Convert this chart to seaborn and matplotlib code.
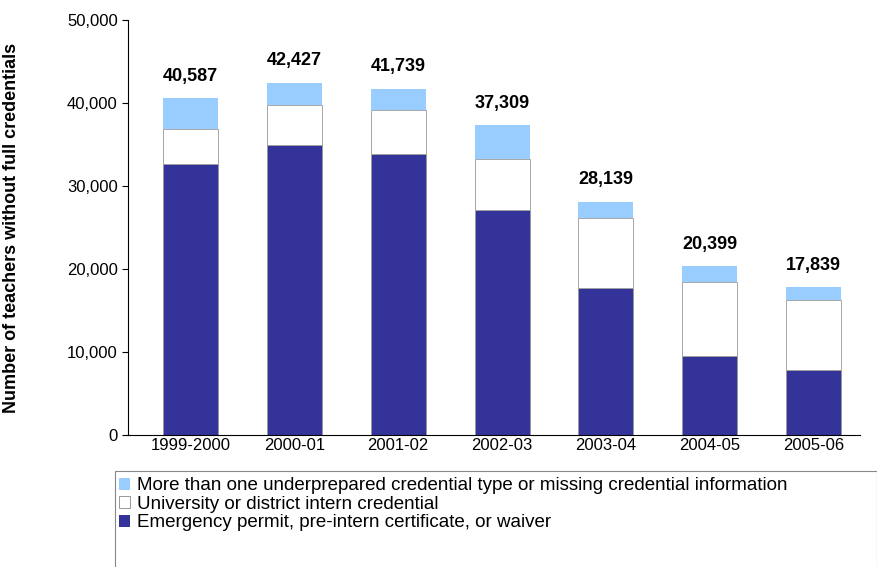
import matplotlib
matplotlib.use("Agg")
import matplotlib.pyplot as plt
import seaborn as sns
import pandas as pd
from matplotlib.patches import Patch, Rectangle

years = ["1999-2000", "2000-01", "2001-02", "2002-03", "2003-04", "2004-05", "2005-06"]
emergency = [32700, 35000, 33900, 27100, 17700, 9600, 7900]
intern = [4200, 4700, 5300, 6100, 8500, 8900, 8400]
totals = [40587, 42427, 41739, 37309, 28139, 20399, 17839]
other = [t - e - i for t, e, i in zip(totals, emergency, intern)]

labels = ["More than one underprepared credential type or missing credential information",
          "University or district intern credential",
          "Emergency permit, pre-intern certificate, or waiver"]
c_dark, c_white, c_light = "#333399", "#FFFFFF", "#99CCFF"

sns.set_style("white")
plt.rcParams["font.family"] = ["Liberation Sans", "DejaVu Sans"]
plt.rcParams["text.color"] = "black"
plt.rcParams["xtick.color"] = "black"
plt.rcParams["ytick.color"] = "black"
plt.rcParams["axes.labelcolor"] = "black"

fig = plt.figure(figsize=(8.78, 5.67), dpi=100)
ax = fig.add_axes([0.146, 0.232, 0.834, 0.733])

df = pd.DataFrame({"year": years, "emergency": emergency, "intern": intern, "other": other})
bottom1 = df["emergency"]
bottom2 = df["emergency"] + df["intern"]
sns.barplot(data=df, x="year", y="emergency", color=c_dark, width=0.53, ax=ax,
            edgecolor="#999999", linewidth=0.6, saturation=1)
ax.bar(range(len(years)), df["intern"], bottom=bottom1, width=0.53, color=c_white,
       edgecolor="#999999", linewidth=0.6)
ax.bar(range(len(years)), df["other"], bottom=bottom2, width=0.53, color=c_light,
       edgecolor="none")

for i, t in enumerate(totals):
    ax.text(i, t + 1600, f"{t:,}", ha="center", va="bottom", fontsize=13, fontweight="bold")

ax.set_ylim(0, 50000)
ax.set_xlim(-0.6, 6.45)
ax.set_yticks(range(0, 50001, 10000))
ax.set_yticklabels([f"{v:,}" for v in range(0, 50001, 10000)], fontsize=12)
ax.tick_params(axis="x", labelsize=12, length=0, pad=2)
ax.tick_params(axis="y", left=True, length=4, direction="out")
ax.set_xlabel("")
ax.set_ylabel("Number of teachers without full credentials", fontsize=13, fontweight="bold")
ax.yaxis.set_label_coords(-0.148, 0.5)
sns.despine(ax=ax)
for s in ["left", "bottom"]:
    ax.spines[s].set_color("black")
    ax.spines[s].set_linewidth(0.8)

fig.patches.append(Rectangle((0.131, -0.01), 0.868, 0.179, transform=fig.transFigure,
                             facecolor="none", edgecolor="#888888", linewidth=0.8))
handles = [Patch(facecolor=c_light, edgecolor="none"),
           Patch(facecolor=c_white, edgecolor="#888888", linewidth=0.6),
           Patch(facecolor=c_dark, edgecolor="none")]
leg = fig.legend(handles, labels, loc="upper left", bbox_to_anchor=(0.135, 0.158),
                 fontsize=13.5, frameon=False, handlelength=0.6, handleheight=0.6,
                 handletextpad=0.4, labelspacing=0.08, borderpad=0, borderaxespad=0)

fig.savefig("out.png", dpi=100)
